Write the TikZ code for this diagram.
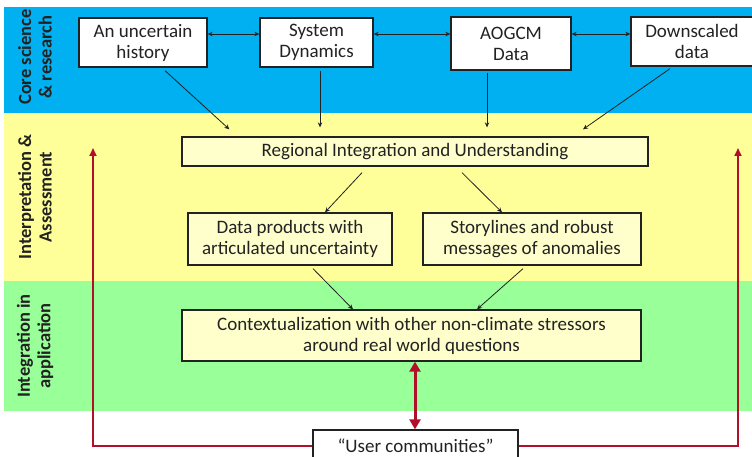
\documentclass[tikz,border=0pt]{standalone}
\usepackage{fontspec}
\setmainfont{Carlito}
\usetikzlibrary{calc,arrows.meta}
\definecolor{bandblue}{HTML}{00B0F0}
\definecolor{bandyellow}{HTML}{FFFF99}
\definecolor{bandgreen}{HTML}{99FF99}
\definecolor{boxcream}{HTML}{FFFFCC}
\definecolor{linkred}{HTML}{B0102A}
\definecolor{ink}{HTML}{222222}
\begin{document}
\begin{tikzpicture}[x=1pt,y=-1pt,
  every node/.style={text=ink},
  topbox/.style={draw=ink,line width=1.3pt,fill=white,inner sep=0pt,align=center,
    font=\fontsize{19}{21}\selectfont},
  midbox/.style={draw=ink,line width=1.3pt,fill=boxcream,inner sep=0pt,align=center,
    font=\fontsize{19}{21}\selectfont},
  bandlabel/.style={rotate=90,align=center,font=\bfseries\fontsize{18.5}{20.5}\selectfont},
  arr/.style={draw=ink,line width=0.8pt,-{Stealth[length=5pt,width=4.5pt]}},
  dbl/.style={draw=ink,line width=0.8pt,{Stealth[length=5pt,width=4.5pt]}-{Stealth[length=5pt,width=4.5pt]}},
  redline/.style={draw=linkred,line width=1.8pt,-{Triangle[length=8pt,width=7pt]}},
  reddbl/.style={draw=linkred,line width=3pt,{Triangle[length=10pt,width=11pt]}-{Triangle[length=10pt,width=11pt]}}
]
\useasboundingbox (0,0) rectangle (752,457);
\clip (0,0) rectangle (752,457);

% horizontal bands
\fill[bandblue]   (4,7)   rectangle (752,113);
\fill[bandyellow] (4,113) rectangle (752,281);
\fill[bandgreen]  (4,281) rectangle (752,411);

% band titles
\node[bandlabel] (lcore) at (35,57)  {Core science\\\& research};
\node[bandlabel] (linterp) at (35,197) {Interpretation \&\\Assessment};
\node[bandlabel] (lappl) at (35,346) {Integration in\\application};

% core science boxes
\node[topbox,minimum width=128,minimum height=49] (hist)  at (143,42.5) {An uncertain\\history};
\node[topbox,minimum width=113,minimum height=49] (sysd)  at (316.5,42.5) {System\\Dynamics};
\node[topbox,minimum width=120,minimum height=53] (aogcm) at (511,43.5) {AOGCM\\Data};
\node[topbox,minimum width=122,minimum height=49] (down)  at (692,41.5) {Downscaled\\data};

% interpretation boxes
\node[midbox,minimum width=466,minimum height=29] (reg)   at (415,151.5) {Regional Integration and Understanding};
\node[midbox,minimum width=204,minimum height=52] (dp)    at (290,239) {Data products with\\articulated uncertainty};
\node[midbox,minimum width=218,minimum height=52] (story) at (532,239) {Storylines and robust\\messages of anomalies};

% application box
\node[midbox,minimum width=459,minimum height=51] (ctx) at (411.5,335.5) {Contextualization with other non-climate stressors\\around real world questions};

% users
\node[topbox,minimum width=205,minimum height=32] (user) at (415.5,446) {\raisebox{1pt}{“User communities”}};

% links among the core science boxes
\draw[dbl] ($(hist.east)+(0,-8.5)$) -- ($(sysd.west)+(0,-8.5)$);
\draw[dbl] ($(sysd.east)+(0,-8.5)$) -- ($(aogcm.west)+(0,-9.5)$);
\draw[dbl] ($(aogcm.east)+(0,-9.5)$) -- ($(down.west)+(0,-7.5)$);

% feeds into regional integration
\draw[arr] ($(hist.south)+(22,3)$)   -- ($(reg.north west)+(48,-7)$);
\draw[arr] ($(sysd.south)+(3.5,3)$)  -- ($(reg.north)+(-95,-9)$);
\draw[arr] ($(aogcm.south)+(-24,2)$) -- ($(reg.north)+(72,-9)$);
\draw[arr] ($(down.south)+(-22,2)$)  -- ($(reg.north)+(168,-7)$);

% regional integration to products
\draw[arr] ($(reg.south)+(-53,6)$) -- ($(dp.north)+(35,0)$);
\draw[arr] ($(reg.south)+(47,6)$)  -- ($(story.north)+(-30,0)$);

% products to contextualization
\draw[arr] ($(dp.south)+(23,3)$)    -- ($(ctx.north)+(-58.5,0)$);
\draw[arr] ($(story.south)+(-9,3)$) -- ($(ctx.north)+(65.5,0)$);

% user feedback loops
\coordinate (lt) at (93,148);
\coordinate (rt) at (738,148);
\draw[redline] (user.west) -| (lt);
\draw[redline] (user.east) -| (rt);
\draw[reddbl] ($(ctx.south)+(3.5,0)$) -- ($(user.north)+(-0.5,0)$);
\end{tikzpicture}
\end{document}
